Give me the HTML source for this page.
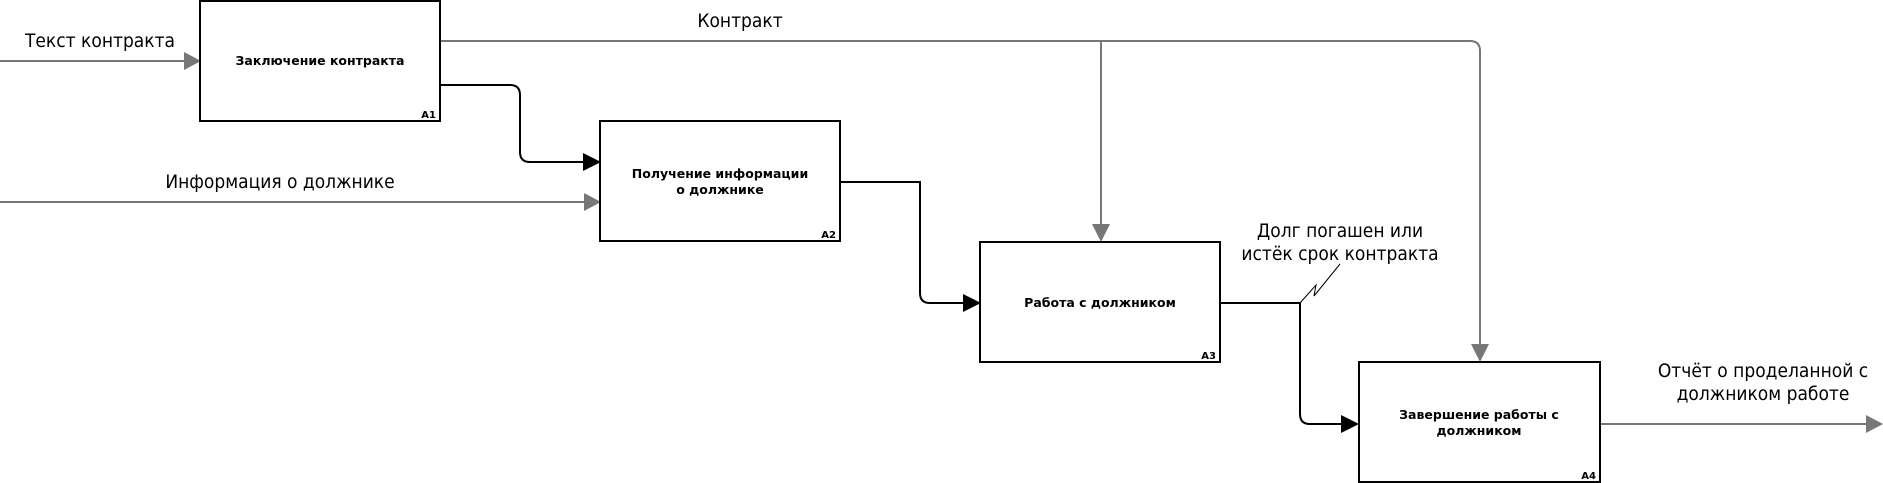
<!DOCTYPE html>
<html><head><meta charset="utf-8"><style>
html,body{margin:0;padding:0;background:#fff;}
svg{display:block;}
.lbl{font-family:"DejaVu Sans","Liberation Sans",sans-serif;font-stretch:condensed;font-size:19px;fill:#000;}
.bx{font-family:"DejaVu Sans","Liberation Sans",sans-serif;font-size:12.5px;font-weight:bold;fill:#000;}
.id{font-family:"DejaVu Sans","Liberation Sans",sans-serif;font-size:10px;font-weight:bold;fill:#000;}
</style></head><body>
<svg width="1883" height="483" viewBox="0 0 1883 483" xmlns="http://www.w3.org/2000/svg">
<g fill="none" stroke="#777" stroke-width="2">
<path d="M0 61 H184"/>
<path d="M0 202 H584"/>
<path d="M440 41 H1470 Q1480 41 1480 51 V345"/>
<path d="M1101 41 V225"/>
<path d="M1600 424 H1867"/>
</g>
<g fill="#777">
<polygon points="184,52 201,61 184,70"/>
<polygon points="584,193 601,202 584,211"/>
<polygon points="1092,224 1110,224 1101,242"/>
<polygon points="1471,344 1489,344 1480,362"/>
<polygon points="1866,415 1883,424 1866,433"/>
</g>
<g fill="none" stroke="#000" stroke-width="2">
<path d="M440 85 H510 Q520 85 520 95 V152 Q520 162 530 162 H584"/>
<path d="M840 182 H920 V293 Q920 303 930 303 H964"/>
<path d="M1220 303 H1300 V414 Q1300 424 1310 424 H1342"/>
</g>
<path d="M1300 303 L1316 285 L1314 296 L1340 264" fill="none" stroke="#000" stroke-width="1"/>
<g fill="#000">
<polygon points="583,153 601,162 583,171"/>
<polygon points="963,294 981,303 963,312"/>
<polygon points="1341,415 1359,424 1341,433"/>
</g>
<g fill="#fff" stroke="#000" stroke-width="2">
<rect x="200" y="1" width="240" height="120"/>
<rect x="600" y="121" width="240" height="120"/>
<rect x="980" y="242" width="240" height="120"/>
<rect x="1359" y="362" width="241" height="120"/>
</g>
<g text-anchor="middle" class="bx">
<text x="320" y="65">Заключение контракта</text>
<text x="720" y="178">Получение информации</text>
<text x="720" y="194">о должнике</text>
<text x="1100" y="307">Работа с должником</text>
<text x="1479" y="419">Завершение работы с</text>
<text x="1479" y="435">должником</text>
</g>
<g text-anchor="end" class="id">
<text x="436" y="118">A1</text>
<text x="836" y="238">A2</text>
<text x="1216" y="359">A3</text>
<text x="1596" y="479">A4</text>
</g>
<g text-anchor="middle" class="lbl">
<text x="100" y="47">Текст контракта</text>
<text x="740" y="27">Контракт</text>
<text x="280" y="188">Информация о должнике</text>
<text x="1340" y="237">Долг погашен или</text>
<text x="1340" y="260">истёк срок контракта</text>
<text x="1763" y="377">Отчёт о проделанной с</text>
<text x="1763" y="400">должником работе</text>
</g>
</svg>
</body></html>
